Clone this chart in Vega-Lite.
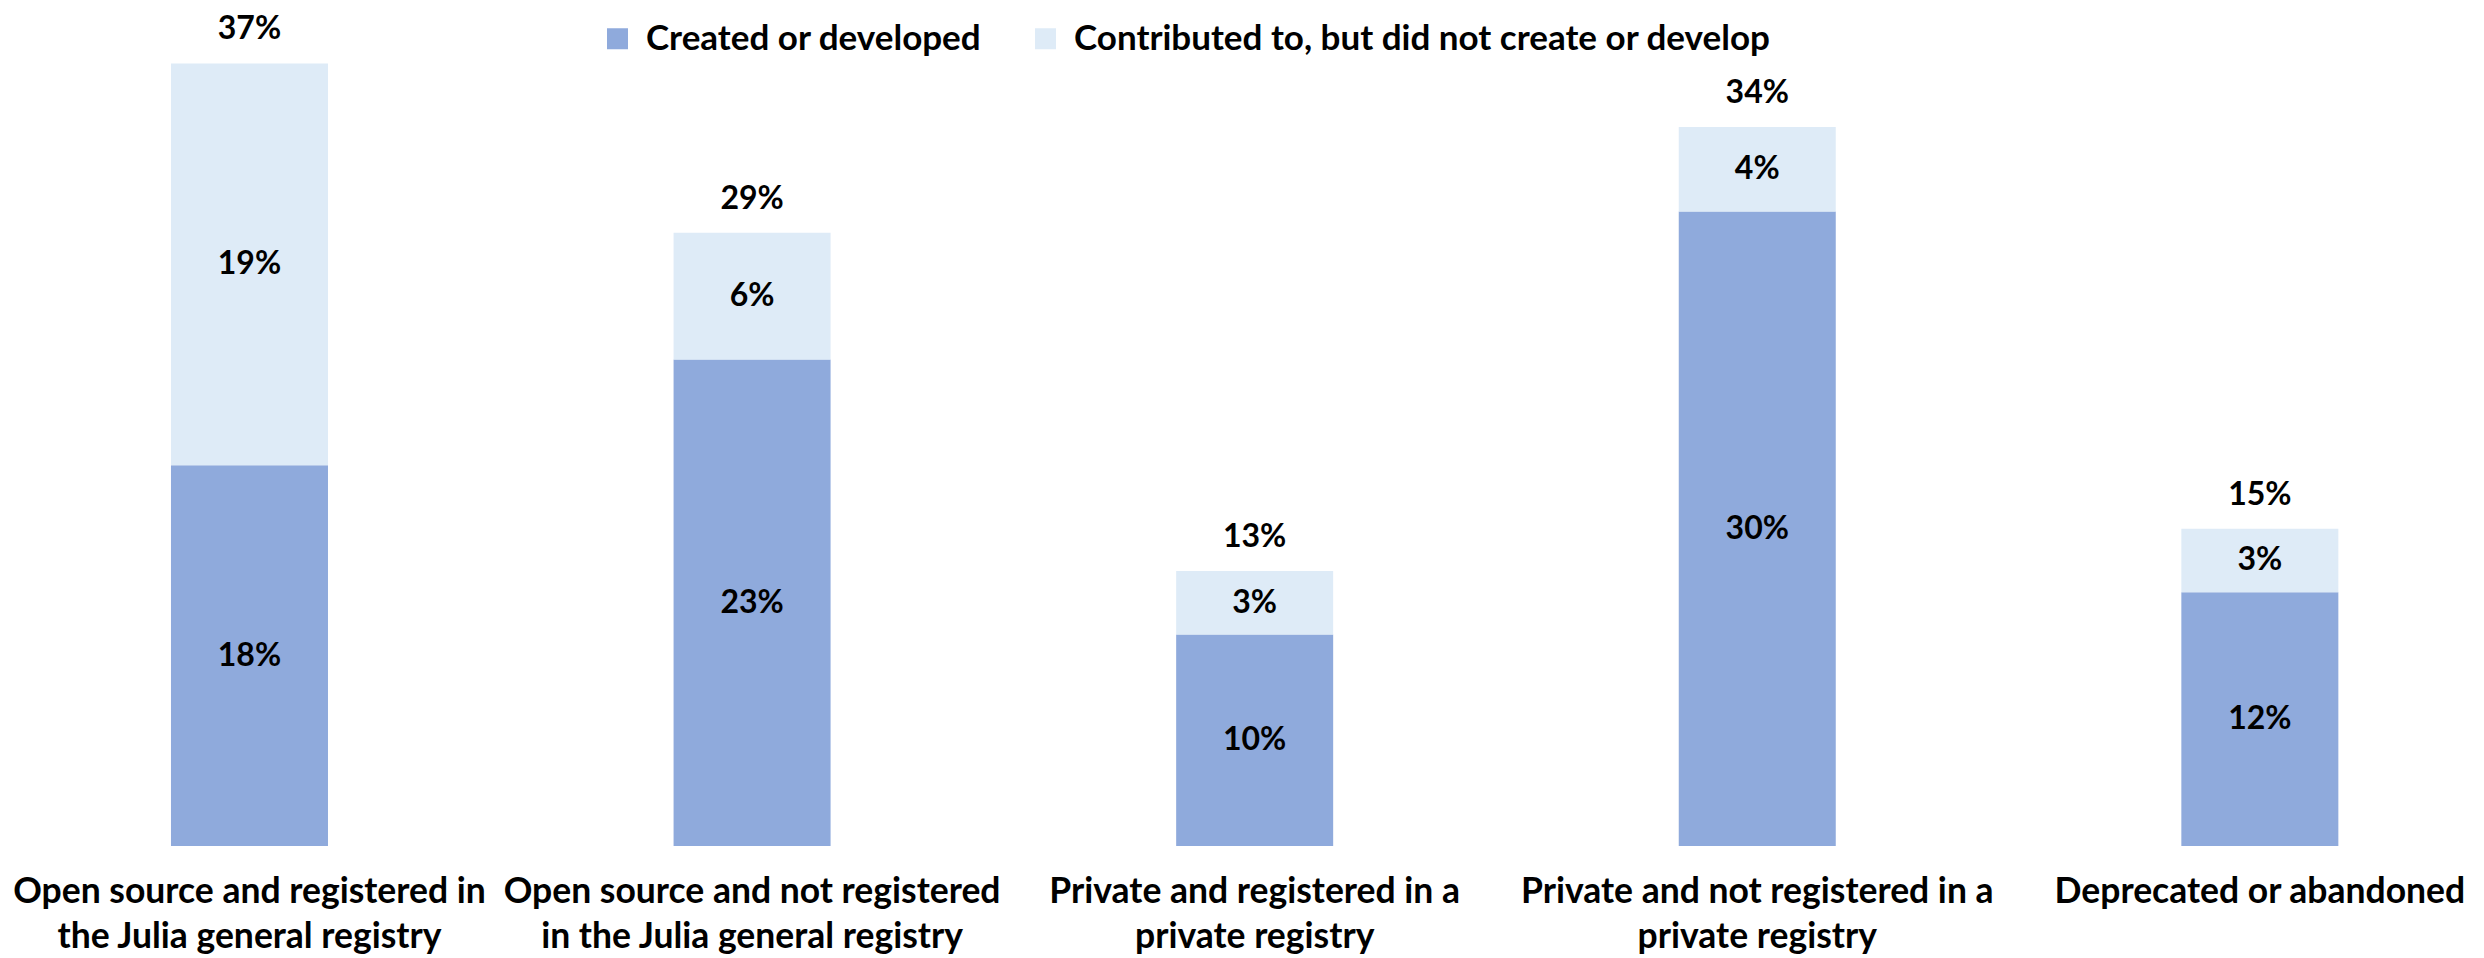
{
  "$schema": "https://vega.github.io/schema/vega-lite/v6.json",
  "width": 2484,
  "height": 846,
  "padding": 0,
  "background": "white",
  "config": {"view": {"stroke": null}, "font": "Lato"},
  "data": {
    "values": [
      {"category": "Open source and registered in\nthe Julia general registry", "series": "Created or developed", "value": 0.18},
      {"category": "Open source and registered in\nthe Julia general registry", "series": "Contributed to, but did not create or develop", "value": 0.19},
      {"category": "Open source and not registered\nin the Julia general registry", "series": "Created or developed", "value": 0.23},
      {"category": "Open source and not registered\nin the Julia general registry", "series": "Contributed to, but did not create or develop", "value": 0.06},
      {"category": "Private and registered in a\nprivate registry", "series": "Created or developed", "value": 0.10},
      {"category": "Private and registered in a\nprivate registry", "series": "Contributed to, but did not create or develop", "value": 0.03},
      {"category": "Private and not registered in a\nprivate registry", "series": "Created or developed", "value": 0.30},
      {"category": "Private and not registered in a\nprivate registry", "series": "Contributed to, but did not create or develop", "value": 0.04},
      {"category": "Deprecated or abandoned", "series": "Created or developed", "value": 0.12},
      {"category": "Deprecated or abandoned", "series": "Contributed to, but did not create or develop", "value": 0.03}
    ]
  },
  "encoding": {
    "x": {
      "field": "category",
      "type": "nominal",
      "sort": null,
      "scale": {"paddingInner": 0.6876, "paddingOuter": 0.315, "align": 0.54},
      "axis": {
        "title": null,
        "labelAngle": 0,
        "domain": false,
        "ticks": false,
        "tickSize": 0,
        "labelPadding": 28,
        "labelFont": "Lato",
        "labelFontWeight": "bold",
        "labelFontSize": 35.5,
        "labelLineHeight": 45,
        "labelColor": "black",
        "labelLimit": 0,
        "labelExpr": "split(datum.label, '\\n')"
      }
    }
  },
  "layer": [
    {
      "mark": {"type": "bar"},
      "encoding": {
        "y": {"field": "value", "type": "quantitative", "stack": "zero", "scale": {"domain": [0, 0.396]}, "axis": null},
        "color": {
          "field": "series",
          "type": "nominal",
          "scale": {"domain": ["Created or developed", "Contributed to, but did not create or develop"], "range": ["#8FAADC", "#DEEBF7"]},
          "legend": {
            "title": null,
            "orient": "none",
            "direction": "horizontal",
            "legendX": 600,
            "legendY": 21,
            "padding": 0,
            "symbolType": "square",
            "symbolSize": 441,
            "symbolStrokeWidth": 0,
            "symbolOpacity": 1,
            "labelFont": "Lato",
            "labelFontWeight": "bold",
            "labelFontSize": 35,
            "labelColor": "black",
            "labelOffset": 11,
            "labelLimit": 0,
            "columnPadding": 46
          }
        },
        "order": {"field": "series", "sort": "descending"}
      }
    },
    {
      "mark": {"type": "text", "font": "Lato", "fontWeight": "bold", "fontSize": 32, "color": "black", "baseline": "middle"},
      "encoding": {
        "y": {"field": "value", "type": "quantitative", "stack": "zero", "bandPosition": 0.5},
        "text": {"field": "value", "type": "quantitative", "format": ".0%"},
        "detail": {"field": "series"},
        "order": {"field": "series", "sort": "descending"}
      }
    },
    {
      "mark": {"type": "text", "font": "Lato", "fontWeight": "bold", "fontSize": 32, "color": "black", "baseline": "alphabetic", "dy": -24},
      "encoding": {
        "y": {"aggregate": "sum", "field": "value", "type": "quantitative", "stack": null},
        "text": {"aggregate": "sum", "field": "value", "type": "quantitative", "format": ".0%"}
      }
    }
  ]
}
